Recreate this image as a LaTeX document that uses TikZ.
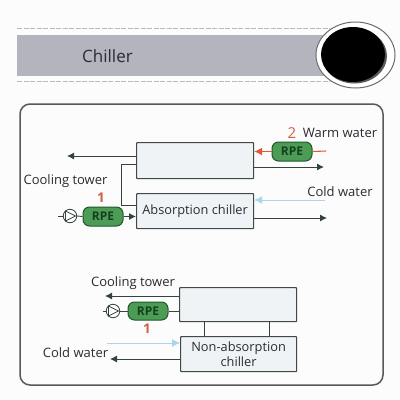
\documentclass[tikz,border=0pt]{standalone}
\usepackage{fontspec}
\setmainfont{Open Sans}
\usetikzlibrary{arrows.meta,shapes.geometric}
\definecolor{ink}{HTML}{2B2B33}
\definecolor{banner}{HTML}{B4B4BE}
\definecolor{boxfill}{HTML}{F0F3F6}
\definecolor{boxline}{HTML}{3F4A48}
\definecolor{flow}{HTML}{34443C}
\definecolor{rpefill}{HTML}{4C9C55}
\definecolor{rpeline}{HTML}{1F5A2C}
\definecolor{redflow}{HTML}{E0583A}
\definecolor{coldflow}{HTML}{A9D6EC}
\definecolor{numred}{HTML}{D0604A}
\tikzset{
  x=1pt,y=-1pt,
  plant/.style={draw=boxline,line width=1.2pt,fill=boxfill,rounded corners=0.8pt,inner sep=0pt,anchor=north west},
  rpebox/.style={draw=rpeline,line width=1pt,fill=rpefill,rounded corners=6.5pt,minimum width=40pt,minimum height=19pt,inner sep=0pt,text=rpeline!70!black,font=\fontsize{12}{14}\selectfont\bfseries},
  pumpc/.style={circle,draw=flow,line width=0.8pt,fill=white,minimum size=13.5pt,inner sep=0pt},
  lbl/.style={text=ink,font=\fontsize{13}{15}\selectfont,inner sep=0pt},
  num/.style={text=numred,inner sep=0pt,font=\fontsize{13.5}{15}\selectfont\bfseries},
  flowline/.style={draw=flow,line width=0.9pt},
  flowarrow/.style={flowline,-{Latex[length=7pt,width=7pt]}},
  hotarrow/.style={draw=redflow,line width=1.1pt,-{Latex[length=8pt,width=8pt]}},
  coldarrow/.style={draw=coldflow,line width=1pt,-{Latex[length=8pt,width=8pt]}},
}
\begin{document}
\begin{tikzpicture}
\useasboundingbox (0,0) rectangle (400,400);
\fill[white!98!gray] (0,0) rectangle (400,400);
% header
\fill[banner] (17,35) rectangle (330,76);
\node[inner sep=0pt,text=ink,font=\fontsize{17}{19}\selectfont] (title) at (107.5,56) {Chiller};
\coordinate (ruleAl) at (17,28); \coordinate (ruleAr) at (330,28);
\coordinate (ruleBl) at (17,81); \coordinate (ruleBr) at (330,81);
\draw[gray!55,line width=1pt,dash pattern=on 5pt off 1.5pt] (ruleAl) -- (ruleAr);
\draw[gray!55,line width=1pt,dash pattern=on 5pt off 1.5pt] (ruleBl) -- (ruleBr);
\draw[gray!85!black,line width=1pt,fill=white] (355.5,55) ellipse [x radius=39.5,y radius=33];
\fill[gray!70!black] (354.5,56) ellipse [x radius=32.5,y radius=27.5];
\fill[black] (353,54.5) ellipse [x radius=32,y radius=27.5];
% panel
\draw[gray!70!black,line width=1.5pt,rounded corners=10pt] (20,104) rectangle (383,385);
% upper plant
\node[plant,minimum width=117pt,minimum height=36pt] (gen) at (136,142) {};
\node[plant,minimum width=117pt,minimum height=35pt,font=\fontsize{12.8}{15}\selectfont,text=ink] (abs) at (136,193) {Absorption chiller};
\node[rpebox] (rpeA) at (103,216.5) {RPE};
\node[rpebox] (rpeB) at (292,151.5) {RPE};
\node[pumpc] (pumpA) at (70,216) {};
\fill[white,draw=flow,line width=0.8pt] (65.5,211) -- (75.5,216) -- (65.5,221) -- cycle;
\coordinate (coolOut) at (67,156);
\coordinate (branchTop) at (121,164);
\coordinate (branchLow) at (121,205);
\coordinate (pumpAin) at (58,216);
\coordinate (warmIn) at (326,151);
\coordinate (genOut) at (324,167);
\coordinate (coldIn) at (325,200);
\coordinate (absOut) at (327,218);
\draw[flowarrow] (gen.west |- coolOut) -- (coolOut);
\draw[flowline] (gen.west |- branchTop) -- (branchTop) -- (branchLow) -- (abs.west |- branchLow);
\draw[flowline] (pumpAin) -- (pumpA.west);
\draw[flowline] (pumpA.east) -- (rpeA.west);
\draw[flowarrow] (rpeA.east) -- (abs.west |- rpeA.east);
\draw[redflow,line width=1.1pt] (warmIn) -- (rpeB.east);
\draw[hotarrow] (rpeB.west) -- (gen.east |- rpeB.west);
\draw[flowarrow] (gen.east |- genOut) -- (genOut);
\draw[coldarrow] (coldIn) -- (abs.east |- coldIn);
\draw[flowarrow] (abs.east |- absOut) -- (absOut);
\node[lbl] (lCoolA) at (65.5,181) {Cooling tower};
\node[num] (n1A) at (101,198) {1};
\node[num,font=\fontsize{15}{17}\selectfont] (n2) at (292,133) {2};
\node[lbl] (lWarm) at (340,133) {Warm water};
\node[lbl] (lCold) at (340,192) {Cold water};
% lower plant
\node[plant,minimum width=117pt,minimum height=34pt] (cond) at (179,287) {};
\node[plant,minimum width=116pt,minimum height=35pt,align=center,font=\fontsize{12.8}{15.5}\selectfont,text=ink] (nonabs) at (180,336) {Non-absorption\\chiller};
\coordinate (tieA) at (204,321); \coordinate (tieB) at (269,321);
\draw[flowline] (tieA) -- (tieA |- nonabs.north);
\draw[flowline] (tieB) -- (tieB |- nonabs.north);
\node[rpebox,minimum height=18pt] (rpeC) at (148,311) {RPE};
\node[pumpc] (pumpC) at (113,311) {};
\fill[white,draw=flow,line width=0.8pt] (108.5,306) -- (118.5,311) -- (108.5,316) -- cycle;
\coordinate (coolOutB) at (105,296);
\coordinate (coldInB) at (107,343);
\coordinate (coldOutB) at (110,359);
\coordinate (pumpCin) at (103,311);
\draw[flowarrow] (cond.west |- coolOutB) -- (coolOutB);
\draw[flowline] (cond.west |- rpeC.east) -- (rpeC.east);
\draw[flowline] (rpeC.west) -- (pumpC.east);
\draw[flowline] (pumpC.west) -- (pumpCin);
\draw[coldarrow] (coldInB) -- (nonabs.west |- coldInB);
\draw[flowarrow] (nonabs.west |- coldOutB) -- (coldOutB);
\node[lbl] (lCoolB) at (133,283) {Cooling tower};
\node[num] (n1B) at (147,329) {1};
\node[lbl] (lColdB) at (75.5,353) {Cold water};
\end{tikzpicture}
\end{document}
